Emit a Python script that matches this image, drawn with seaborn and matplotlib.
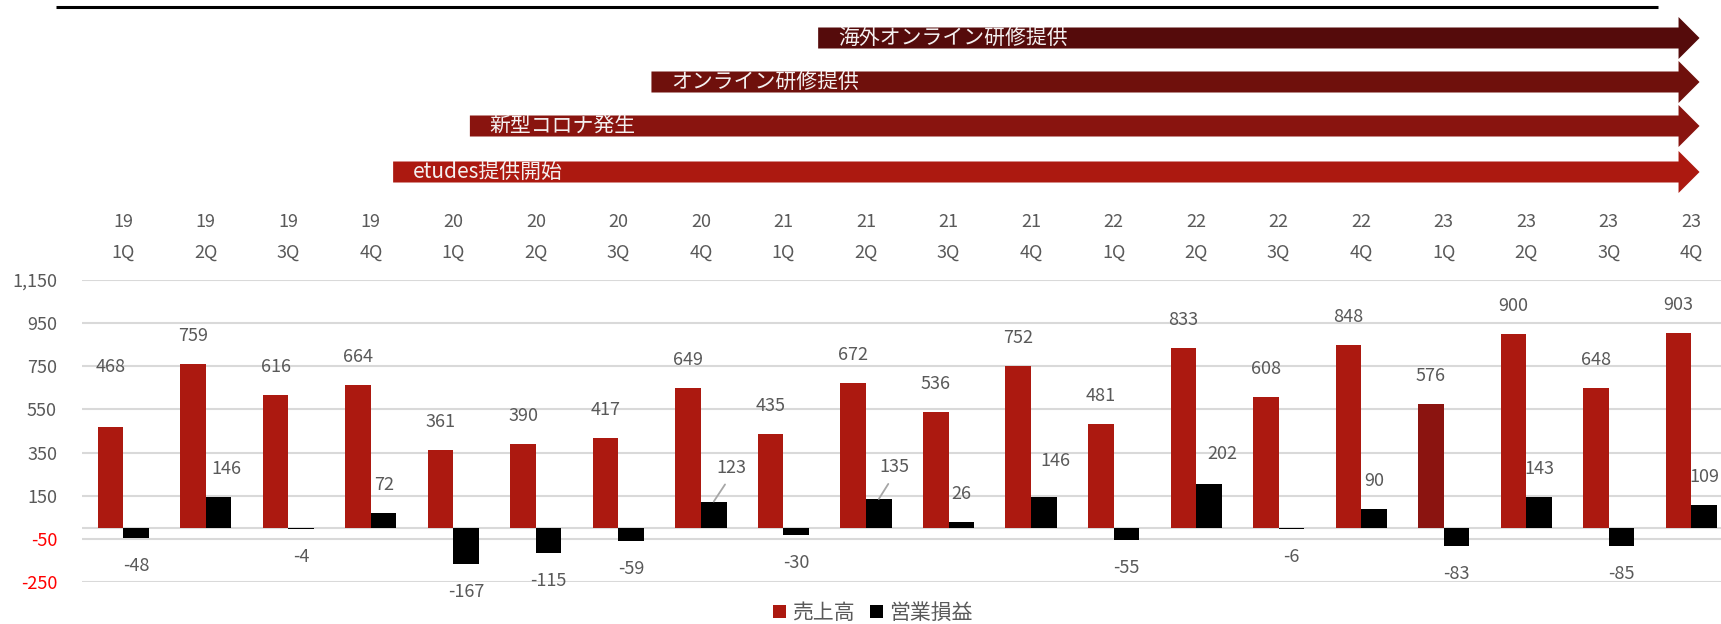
import matplotlib
matplotlib.use("Agg")
import matplotlib.pyplot as plt
from matplotlib.patches import FancyArrow, Patch
import pandas as pd
import seaborn as sns

# ---- data -------------------------------------------------------------
years = ["19", "19", "19", "19", "20", "20", "20", "20", "21", "21",
         "21", "21", "22", "22", "22", "22", "23", "23", "23", "23"]
quarters = ["1Q", "2Q", "3Q", "4Q"] * 5
sales = [468, 759, 616, 664, 361, 390, 417, 649, 435, 672,
         536, 752, 481, 833, 608, 848, 576, 900, 648, 903]
op_income = [-48, 146, -4, 72, -167, -115, -59, 123, -30, 135,
             26, 146, -55, 202, -6, 90, -83, 143, -85, 109]
series_names = ["売上高", "営業損益"]
y_ticks = [-250, -50, 150, 350, 550, 750, 950, 1150]
milestones = ["etudes提供開始", "新型コロナ発生", "オンライン研修提供", "海外オンライン研修提供"]

# ---- styling ----------------------------------------------------------
RED = "#AC1910"
RED_DARK = "#8B1410"
BLACK = "#000000"
GRID = "#D9D9D9"
TXT = "#595959"
ARROW_COLORS = ["#AC1910", "#89140F", "#6F100C", "#550B0B"]
ARROW_START = [3.27, 4.20, 6.40, 8.42]   # in category units
ARROW_ROW = [172, 126, 82, 38]           # pixel rows from the top
ARROW_TIP = 19.10
HIGHLIGHT = 16                           # 23 1Q drawn in a deeper red

sns.set_theme(style="white")
plt.rcParams["font.family"] = ["Noto Sans CJK JP", "DejaVu Sans"]

W, H = 1721, 624
fig = plt.figure(figsize=(W / 100, H / 100), dpi=100)

left, top_px, bot_px = 82, 280, 582
ax = fig.add_axes([left / W, 1 - bot_px / H, 1 - left / W, (bot_px - top_px) / H])

labels = [f"{y} {q}" for y, q in zip(years, quarters)]
df = pd.DataFrame({
    "period": labels * 2,
    "series": [series_names[0]] * len(sales) + [series_names[1]] * len(op_income),
    "value": sales + op_income,
})

ax.axhline(0, color=GRID, lw=1.5, zorder=1)
sns.barplot(data=df, x="period", y="value", hue="series", order=labels,
            hue_order=series_names, palette=[RED, BLACK], saturation=1,
            width=0.62, gap=0, legend=False, ax=ax, zorder=3,
            edgecolor="none", linewidth=0)

ax.containers[0][HIGHLIGHT].set_facecolor(RED_DARK)

ax.set_xlim(-0.5, 19.36)
ax.set_ylim(-250, 1150)
ax.set_yticks(y_ticks)
ax.set_yticklabels([f"{v:,}" for v in y_ticks])
for t, v in zip(ax.get_yticklabels(), y_ticks):
    t.set_color("#FF0000" if v < 0 else TXT)
    t.set_fontsize(13)
ax.tick_params(axis="y", length=0, pad=18)
ax.set_xticks([])
ax.set_xlabel("")
ax.set_ylabel("")
ax.grid(axis="y", color=GRID, lw=1.5, zorder=0)
ax.set_axisbelow(True)
for s in ax.spines.values():
    s.set_visible(False)

# period labels above the plot area (year row and quarter row)
for i, (y, q) in enumerate(zip(years, quarters)):
    ax.annotate(y, xy=(i, 1), xycoords=("data", "axes fraction"),
                xytext=(0, 58), textcoords="offset pixels",
                ha="center", va="center", fontsize=13, color=TXT)
    ax.annotate(q, xy=(i, 1), xycoords=("data", "axes fraction"),
                xytext=(0, 27), textcoords="offset pixels",
                ha="center", va="center", fontsize=13, color=TXT)

# value labels
red_shift = {0: (0, 60)}
op_shift = {1: (8, 28), 7: (18, 34), 9: (16, 32), 11: (12, 36), 13: (13, 30)}
leaders = {7, 9}

for i, (bar, v) in enumerate(zip(ax.containers[0], sales)):
    cx = bar.get_x() + bar.get_width() / 2
    dx, dy = red_shift.get(i, (0, 28))
    ax.annotate(f"{v}", xy=(cx, v), xytext=(dx, dy), textcoords="offset pixels",
                ha="center", va="center", fontsize=13, color=TXT, zorder=5)

for i, (bar, v) in enumerate(zip(ax.containers[1], op_income)):
    cx = bar.get_x() + bar.get_width() / 2
    dx, dy = op_shift.get(i, (0, 28))
    if v < 0:
        dy = -dy
    kw = {}
    if i in leaders:
        kw["arrowprops"] = dict(arrowstyle="-", color="#A6A6A6", lw=1.3,
                                shrinkA=4, shrinkB=0, relpos=(0.45, 0))
    ax.annotate(f"{v}", xy=(cx, v), xytext=(dx, dy), textcoords="offset pixels",
                ha="center", va="center", fontsize=13, color=TXT, zorder=5, **kw)

# legend
handles = [Patch(facecolor=RED, edgecolor="none"), Patch(facecolor=BLACK, edgecolor="none")]
fig.legend(handles, series_names, loc="center", bbox_to_anchor=(873 / W, 1 - 613 / H),
           ncol=2, frameon=False, handlelength=0.62, handleheight=0.62,
           handletextpad=0.3, columnspacing=0.75, fontsize=15, labelcolor=TXT)

# milestone arrows along the top
band = 200
ax2 = fig.add_axes([left / W, 1 - band / H, 1 - left / W, band / H])
ax2.set_xlim(ax.get_xlim())
ax2.set_ylim(band, 0)
ax2.axis("off")

ax2.plot([-0.81, 18.60], [7, 7], color="black", lw=2.2, clip_on=False,
         solid_capstyle="butt")

px_per_unit = (W - left) / (19.36 + 0.5)
for name, x0, yc, c in zip(milestones, ARROW_START, ARROW_ROW, ARROW_COLORS):
    arr = FancyArrow(x0, yc, ARROW_TIP - x0, 0, width=21, head_width=42,
                     head_length=21 / px_per_unit, length_includes_head=True,
                     color=c, lw=0)
    ax2.add_patch(arr)
    ax2.text(x0 + 20 / px_per_unit, yc, name, ha="left", va="center",
             fontsize=15, color="#F4F0F0")

fig.savefig("out.png", dpi=100)
